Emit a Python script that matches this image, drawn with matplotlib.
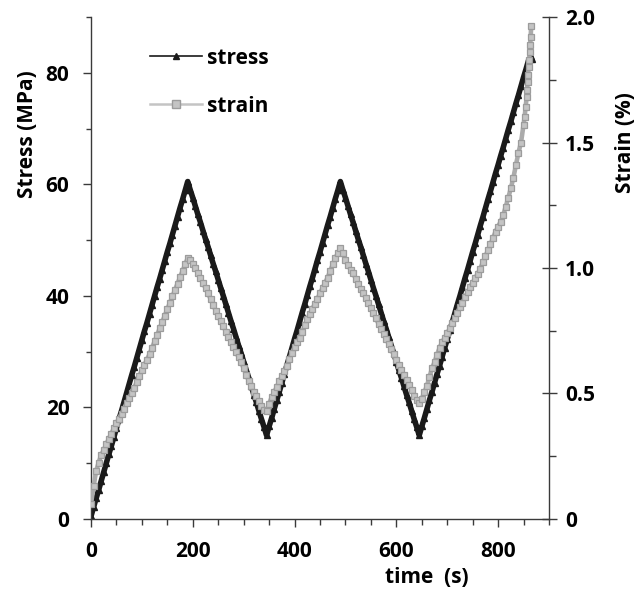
#!/usr/bin/env python3
"""Cyclic loading test: stress and strain against time, twin y axes."""

import matplotlib

matplotlib.use("Agg")
import matplotlib.pyplot as plt
from matplotlib.lines import Line2D
from matplotlib.ticker import MultipleLocator

plt.rcParams["font.family"] = ["Open Sans", "DejaVu Sans"]
plt.rcParams["font.weight"] = "bold"

# Sampling instants (s), shared by both series up to 850 s
TIME_S = [
    0, 5, 10, 15, 20, 25, 30, 35, 40, 45, 50, 55, 60, 65, 70, 75, 80, 85, 90, 95,
    100, 105, 110, 115, 120, 125, 130, 135, 140, 145, 150, 155, 160, 165, 170, 175, 180, 185, 190, 195,
    200, 205, 210, 215, 220, 225, 230, 235, 240, 245, 250, 255, 260, 265, 270, 275, 280, 285, 290, 295,
    300, 305, 310, 315, 320, 325, 330, 335, 340, 345, 350, 355, 360, 365, 370, 375, 380, 385, 390, 395,
    400, 405, 410, 415, 420, 425, 430, 435, 440, 445, 450, 455, 460, 465, 470, 475, 480, 485, 490, 495,
    500, 505, 510, 515, 520, 525, 530, 535, 540, 545, 550, 555, 560, 565, 570, 575, 580, 585, 590, 595,
    600, 605, 610, 615, 620, 625, 630, 635, 640, 645, 650, 655, 660, 665, 670, 675, 680, 685, 690, 695,
    700, 705, 710, 715, 720, 725, 730, 735, 740, 745, 750, 755, 760, 765, 770, 775, 780, 785, 790, 795,
    800, 805, 810, 815, 820, 825, 830, 835, 840, 845, 850,
]

# Stress (MPa)
STRESS_MPA = [
    0.5, 2.1, 3.7, 5.2, 6.8, 8.4, 10.0, 11.6, 13.1, 14.7, 16.3, 17.9, 19.4, 21.0, 22.6, 24.2, 25.8, 27.3, 28.9, 30.5,
    32.1, 33.7, 35.2, 36.8, 38.4, 40.0, 41.6, 43.1, 44.7, 46.3, 47.9, 49.4, 51.0, 52.6, 54.2, 55.8, 57.3, 58.9, 60.5,
    59.0, 57.6, 56.1, 54.6, 53.2, 51.7, 50.2, 48.8, 47.3, 45.8, 44.4, 42.9, 41.4, 40.0, 38.5, 37.0, 35.5, 34.1, 32.6,
    31.1, 29.7, 28.2, 26.7, 25.3, 23.8, 22.3, 20.9, 19.4, 17.9, 16.5, 15.0,
    16.6, 18.1, 19.7, 21.3, 22.8, 24.4, 26.0, 27.6, 29.1, 30.7, 32.3, 33.8, 35.4, 37.0, 38.5, 40.1, 41.7, 43.2, 44.8,
    46.4, 47.9, 49.5, 51.1, 52.7, 54.2, 55.8, 57.4, 58.9, 60.5,
    59.0, 57.6, 56.1, 54.6, 53.2, 51.7, 50.2, 48.8, 47.3, 45.8, 44.4, 42.9, 41.4, 40.0, 38.5, 37.0, 35.5, 34.1, 32.6,
    31.1, 29.7, 28.2, 26.7, 25.3, 23.8, 22.3, 20.9, 19.4, 17.9, 16.5, 15.0,
    16.6, 18.1, 19.7, 21.3, 22.8, 24.4, 26.0, 27.5, 29.1, 30.7, 32.2, 33.8, 35.3, 36.9, 38.5, 40.0, 41.6, 43.2, 44.7,
    46.3, 47.9, 49.4, 51.0, 52.6, 54.1, 55.7, 57.3, 58.8, 60.4, 62.0, 63.5, 65.1, 66.6, 68.2, 69.8, 71.3, 72.9, 74.5,
    76.0, 77.6, 79.2,
]
STRESS_TAIL_T = [855, 860, 866]
STRESS_TAIL = [80.7, 82.3, 82.5]

# Strain (%)
STRAIN_PCT = [
    0.06, 0.13, 0.19, 0.225, 0.255, 0.275, 0.298, 0.32, 0.34, 0.362, 0.382, 0.40, 0.42, 0.44, 0.462, 0.482, 0.503,
    0.523, 0.545, 0.57, 0.594, 0.614, 0.635, 0.657, 0.682, 0.708, 0.733, 0.76, 0.785, 0.81, 0.836, 0.862, 0.887,
    0.912, 0.938, 0.964, 0.989, 1.014, 1.039,
    1.03, 1.015, 1.0, 0.98, 0.96, 0.94, 0.92, 0.899, 0.876, 0.853, 0.83, 0.808, 0.788, 0.768, 0.747, 0.726, 0.706,
    0.686, 0.665, 0.645, 0.624, 0.6, 0.575, 0.55, 0.528, 0.507, 0.49, 0.47, 0.452, 0.435, 0.43,
    0.46, 0.485, 0.505, 0.527, 0.55, 0.57, 0.59, 0.61, 0.637, 0.663, 0.685, 0.705, 0.722, 0.745, 0.772, 0.797,
    0.818, 0.838, 0.858, 0.878, 0.899, 0.92, 0.94, 0.962, 0.988, 1.014, 1.038, 1.06, 1.078,
    1.06, 1.03, 1.01, 0.994, 0.979, 0.958, 0.938, 0.918, 0.9, 0.88, 0.861, 0.84, 0.82, 0.799, 0.778, 0.758, 0.737,
    0.717, 0.697, 0.676, 0.656, 0.635, 0.615, 0.594, 0.574, 0.554, 0.533, 0.512, 0.492, 0.475, 0.462,
    0.48, 0.505, 0.53, 0.565, 0.6, 0.625, 0.655, 0.682, 0.705, 0.722, 0.74, 0.76, 0.78, 0.8, 0.822, 0.845, 0.862,
    0.883, 0.905, 0.925, 0.942, 0.96, 0.978, 0.998, 1.022, 1.046, 1.07, 1.095, 1.12, 1.145, 1.165, 1.185, 1.21,
    1.245, 1.28, 1.318, 1.36, 1.41, 1.46, 1.5, 1.57,
]
STRAIN_TAIL_T = [852, 854, 856, 857, 858, 859, 860, 861, 862, 863, 864, 865]
STRAIN_TAIL = [1.60, 1.64, 1.68, 1.71, 1.74, 1.77, 1.80, 1.83, 1.86, 1.89, 1.92, 1.965]

STRESS_COLOR = "#1a1a1a"
STRAIN_LINE = "#ababab"
STRAIN_FACE = "#c4c4c4"
STRAIN_EDGE = "#9c9c9c"
AXIS_COLOR = "#3a3a3a"
FONT_SIZE = 15


def main():
    fig = plt.figure(figsize=(6.37, 5.98), dpi=100)
    ax = fig.add_axes([0.14286, 0.13211, 0.71900, 0.83946])
    ax2 = ax.twinx()

    ax.plot(TIME_S + STRESS_TAIL_T, STRESS_MPA + STRESS_TAIL, color=STRESS_COLOR,
            lw=4.0, marker="^", ms=4.8, mfc=STRESS_COLOR, mec=STRESS_COLOR, zorder=2)
    ax2.plot(TIME_S + STRAIN_TAIL_T, STRAIN_PCT + STRAIN_TAIL, color=STRAIN_LINE,
             lw=3.3, marker="s", ms=4.8, mfc=STRAIN_FACE, mec=STRAIN_EDGE, mew=0.9, zorder=3)

    ax.set_xlim(0, 900)
    ax.set_ylim(0, 90)
    ax2.set_ylim(0, 2.0)

    ax.xaxis.set_major_locator(MultipleLocator(200))
    ax.xaxis.set_minor_locator(MultipleLocator(50))
    ax.yaxis.set_major_locator(MultipleLocator(20))
    ax.yaxis.set_minor_locator(MultipleLocator(10))
    ax2.yaxis.set_minor_locator(MultipleLocator(0.25))
    ax2.set_yticks([0, 0.5, 1.0, 1.5, 2.0])
    ax2.set_yticklabels(["0", "0.5", "1.0", "1.5", "2.0"])

    for a in (ax, ax2):
        a.spines["top"].set_visible(False)
        for s in ("left", "right", "bottom"):
            a.spines[s].set_color(AXIS_COLOR)
            a.spines[s].set_linewidth(1.0)
    ax.spines["right"].set_visible(False)
    ax2.spines["left"].set_visible(False)
    ax2.spines["bottom"].set_visible(False)

    ax.tick_params(axis="x", which="major", direction="out", length=5.8, width=1.0,
                   color=AXIS_COLOR, pad=10, labelsize=FONT_SIZE)
    ax.tick_params(axis="x", which="minor", direction="out", length=4.0, width=1.0, color=AXIS_COLOR)
    ax.tick_params(axis="y", which="major", direction="out", length=5.5, width=1.0,
                   color=AXIS_COLOR, pad=10, labelsize=FONT_SIZE)
    ax.tick_params(axis="y", which="minor", direction="out", length=3.6, width=1.0, color=AXIS_COLOR)
    ax2.tick_params(axis="y", which="major", direction="inout", length=10.8, width=1.0,
                    color=AXIS_COLOR, pad=6, labelsize=FONT_SIZE)
    ax2.tick_params(axis="y", which="minor", direction="out", length=5.0, width=1.0, color=AXIS_COLOR)

    ax.set_xlabel("time  (s)", fontsize=FONT_SIZE, fontweight="bold")
    ax.xaxis.set_label_coords(0.733, -0.096)
    ax.set_ylabel("Stress (MPa)", fontsize=FONT_SIZE, fontweight="bold")
    ax.yaxis.set_label_coords(-0.116, 0.766)
    ax2.set_ylabel("Strain (%)", fontsize=FONT_SIZE, fontweight="bold", rotation=90)
    ax2.yaxis.set_label_coords(1.145, 0.75)

    handles = [
        Line2D([], [], color=STRESS_COLOR, lw=1.2, marker="^", ms=5, mfc=STRESS_COLOR, mec=STRESS_COLOR),
        Line2D([], [], color=STRAIN_FACE, lw=1.8, marker="s", ms=6, mfc=STRAIN_FACE, mec=STRAIN_EDGE, mew=1.0),
    ]
    ax2.legend(handles, ["stress", "strain"], loc="upper left", bbox_to_anchor=(0.129, 0.939),
               frameon=False, fontsize=FONT_SIZE, borderpad=0, borderaxespad=0,
               handlelength=2.5, handletextpad=0.25, labelspacing=1.3)

    fig.savefig("out.png", dpi=100)


if __name__ == "__main__":
    main()
